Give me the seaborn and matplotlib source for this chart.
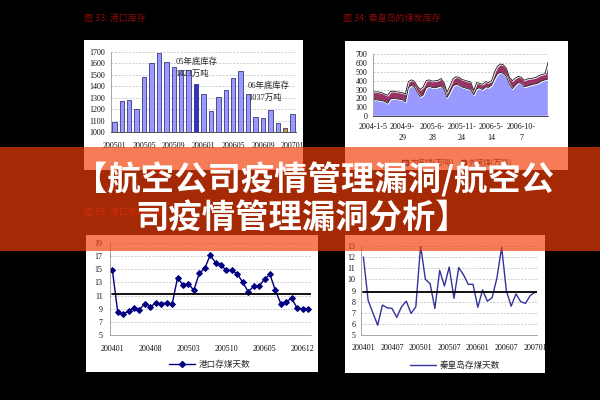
import numpy as np
import pandas as pd
import matplotlib
matplotlib.use("Agg")
import matplotlib.pyplot as plt
import seaborn as sns
from matplotlib.patches import Rectangle, Patch
from matplotlib.lines import Line2D

# --- values ---
# fig 33: port stock, monthly 200501..200701 (万吨)
stock_months = ["200501", "200502", "200503", "200504", "200505", "200506", "200507",
                "200508", "200509", "200510", "200511", "200512", "200601", "200602",
                "200603", "200604", "200605", "200606", "200607", "200608", "200609",
                "200610", "200611", "200612", "200701"]
port_stock = [1090, 1270, 1280, 1205, 1480, 1605, 1690, 1610, 1570, 1540, 1540, 1423,
              1330, 1185, 1310, 1365, 1475, 1530, 1330, 1130, 1125, 1190, 1075, 1037, 1160]
stock_ticks = ["200501", "200505", "200509", "200601", "200605", "200609", "200701"]

# fig 34: Qinhuangdao coal stock, irregular dates (万吨)
qhd_dates = ["2004-1-5", "2004-9-\n29", "2005-6-\n28", "2005-11-\n24", "2006-5-\n14", "2006-10-\n7"]
inland_coal = [180, 185, 180, 175, 165, 145, 195, 200, 195, 190, 185, 160, 320, 350, 330,
               270, 220, 240, 320, 335, 325, 320, 330, 340, 300, 210, 270, 340, 360, 350,
               330, 320, 310, 300, 240, 310, 320, 300, 330, 325, 350, 420, 480, 495, 480,
               450, 360, 310, 350, 380, 370, 330, 340, 350, 360, 365, 380, 400, 410, 420]
foreign_coal = [90, 90, 92, 90, 85, 90, 85, 82, 80, 80, 80, 90, 70, 60, 65,
                70, 80, 90, 80, 75, 70, 80, 75, 85, 80, 60, 70, 80, 85, 90,
                85, 85, 85, 85, 50, 70, 50, 60, 60, 55, 50, 80, 85, 95, 100,
                90, 80, 90, 80, 70, 70, 75, 80, 75, 70, 75, 80, 70, 70, 190]

# fig 35: port coal days, monthly 200401..200701
days_ticks_35 = ["200401", "200408", "200503", "200510", "200605", "200612"]
port_days = [14.9, 8.5, 8.2, 8.7, 9.1, 8.9, 9.8, 9.3, 9.9, 9.8, 9.9, 9.7, 13.7, 12.6,
             12.8, 11.8, 14.4, 15.1, 17.1, 16.0, 15.6, 14.8, 14.8, 14.3, 13.0, 11.6,
             12.4, 12.4, 13.5, 14.2, 11.8, 9.8, 10.1, 10.6, 9.1, 9.0, 9.0]
port_days_avg = 11.2

# fig 36: Qinhuangdao coal days, monthly 200401..200701
days_ticks_36 = ["200401", "200407", "200501", "200507", "200601", "200607", "200701"]
qhd_days = [12.0, 8.1, 7.0, 5.9, 7.7, 7.45, 7.4, 6.6, 7.55, 8.05, 6.95, 7.55, 13.0,
            10.0, 9.6, 7.4, 10.8, 9.4, 11.1, 8.3, 11.05, 10.4, 9.55, 9.55, 7.5, 9.05,
            8.05, 8.35, 10.1, 12.85, 8.95, 7.6, 8.7, 8.0, 7.85, 8.55, 8.85]
qhd_days_avg = 8.86

sns.set_theme(style="white")
plt.rcParams['font.family'] = ['Liberation Serif', 'Noto Sans CJK SC']
plt.rcParams['axes.unicode_minus'] = False

W, H = 600, 400
def fx(px): return px / W
def fy(py): return 1 - py / H
def box(x0, y0, x1, y1):
    return [fx(x0), fy(y1), fx(x1) - fx(x0), fy(y0) - fy(y1)]

fig = plt.figure(figsize=(6, 4), dpi=100, facecolor="black")

# white panels behind the four charts
for x0, y0, x1, y1 in [(84, 40, 303, 170), (345, 41, 568, 170),
                       (86, 235, 318, 372), (345, 235, 545, 373)]:
    fig.add_artist(Rectangle((fx(x0), fy(y1)), fx(x1) - fx(x0), fy(y0) - fy(y1),
                             transform=fig.transFigure, facecolor="white",
                             edgecolor="none", zorder=-1))

tick_fs = 5.8
grid_kw = dict(color="#BBBBBB", linestyle=(0, (3, 2)), linewidth=0.5)

def style_ax(ax):
    ax.set_facecolor("none")
    ax.set_axisbelow(True)
    ax.yaxis.grid(True, **grid_kw)
    ax.xaxis.grid(False)
    for s in ["top", "right"]:
        ax.spines[s].set_visible(False)
    ax.spines["left"].set_color("#999999")
    ax.spines["left"].set_linewidth(0.6)
    ax.spines["bottom"].set_color("#333333")
    ax.spines["bottom"].set_linewidth(0.6)
    ax.tick_params(labelsize=tick_fs, length=0, colors="#111111")
    ax.set_xlabel("")
    ax.set_ylabel("")

# --- fig 33: bars ---
ax1 = fig.add_axes(box(110.6, 52, 296.4, 132))
df1 = pd.DataFrame({"month": stock_months, "stock": port_stock})
bar_colors = ["#9999FF"] * len(stock_months)
bar_colors[stock_months.index("200512")] = "#3333CC"
bar_colors[stock_months.index("200612")] = "#CC9933"
sns.barplot(data=df1, x="month", y="stock", hue="month", palette=bar_colors,
            legend=False, width=0.6, saturation=1, edgecolor="#1a1a66",
            linewidth=0.5, ax=ax1)
ax1.set_ylim(1000, 1700)
ax1.set_xlim(-0.5, len(stock_months) - 0.5)
ax1.set_yticks(range(1000, 1701, 100))
ax1.set_xticks([stock_months.index(t) for t in stock_ticks])
ax1.set_xticklabels(stock_ticks)
style_ax(ax1)
ax1.tick_params(axis="x", pad=7)
ax1.tick_params(axis="y", pad=4)
ax1.text(0.35, 0.88, "05年底库存", transform=ax1.transAxes, fontsize=6, va="center")
ax1.text(0.35, 0.73, "1423万吨", transform=ax1.transAxes, fontsize=6, va="center")
ax1.text(0.74, 0.58, "06年底库存", transform=ax1.transAxes, fontsize=6, va="center")
ax1.text(0.74, 0.43, "1037万吨", transform=ax1.transAxes, fontsize=6, va="center")

# --- fig 34: stacked area ---
ax2 = fig.add_axes(box(372.7, 54.3, 548, 116))
idx = np.arange(len(inland_coal))
total_coal = np.add(inland_coal, foreign_coal)
ax2.stackplot(idx, inland_coal, foreign_coal, colors=["#9999FF", "#993366"])
sns.lineplot(x=idx, y=inland_coal, color="#1a1a1a", linewidth=0.6, ax=ax2)
sns.lineplot(x=idx, y=total_coal, color="#1a1a1a", linewidth=0.6, ax=ax2)
ax2.set_xlim(0, len(inland_coal) - 1)
ax2.set_ylim(0, 700)
ax2.set_yticks(range(0, 701, 100))
ax2.set_xticks(range(0, len(inland_coal), 10))
ax2.set_xticklabels(qhd_dates, linespacing=1.45, va="top")
style_ax(ax2)
ax2.tick_params(axis="x", pad=5)
ax2.tick_params(axis="y", pad=4)
fig.legend(handles=[Patch(facecolor="#9999FF", edgecolor="#333"),
                    Patch(facecolor="#993366", edgecolor="#333")],
           labels=["内贸煤(万吨)", "外贸煤(万吨)"], loc="center",
           bbox_to_anchor=(fx(457), fy(163)), ncol=2, frameon=False, fontsize=5.5,
           handlelength=0.7, handleheight=0.7, columnspacing=1.0, handletextpad=0.3)

# --- fig 35: port coal days ---
ax3 = fig.add_axes(box(109.6, 242.7, 310.7, 335.3))
sns.lineplot(x=np.arange(len(port_days)), y=port_days, color="#000080", linewidth=1,
             marker="D", markersize=3, markeredgecolor="#000080", ax=ax3)
ax3.axhline(port_days_avg, xmin=0.013, xmax=1, color="black", linewidth=1.3)
ax3.set_xlim(-0.5, len(port_days) - 0.5)
ax3.set_ylim(5, 19)
ax3.set_yticks(range(5, 20, 2))
ax3.set_xticks([0, 7, 14, 21, 28, 35])
ax3.set_xticklabels(days_ticks_35)
style_ax(ax3)
ax3.spines["bottom"].set_color("#999999")
ax3.tick_params(axis="x", pad=7)
ax3.tick_params(axis="y", pad=5)
fig.legend(handles=[Line2D([0], [0], color="#000080", lw=1, marker="D", markersize=3)],
           labels=["港口存煤天数"], loc="center", bbox_to_anchor=(fx(210), fy(365)),
           frameon=False, fontsize=6.2, handlelength=3, handletextpad=0.4)

# --- fig 36: Qinhuangdao coal days ---
ax4 = fig.add_axes(box(361, 245.7, 537.4, 335.3))
sns.lineplot(x=np.arange(len(qhd_days)), y=qhd_days, color="#333399", linewidth=1, ax=ax4)
ax4.axhline(qhd_days_avg, xmin=0.013, xmax=0.995, color="black", linewidth=1.3)
ax4.set_xlim(-0.5, len(qhd_days) - 0.5)
ax4.set_ylim(5, 13)
ax4.set_yticks(range(5, 14))
ax4.set_xticks(range(0, len(qhd_days), 6))
ax4.set_xticklabels(days_ticks_36)
style_ax(ax4)
ax4.spines["bottom"].set_color("#999999")
ax4.tick_params(axis="x", pad=6)
ax4.tick_params(axis="y", pad=4)
fig.legend(handles=[Line2D([0], [0], color="#333399", lw=1)],
           labels=["秦皇岛存煤天数"], loc="center", bbox_to_anchor=(fx(455), fy(366)),
           frameon=False, fontsize=6.2, handlelength=3, handletextpad=0.4)

# --- figure captions (dim red on black) ---
cap_kw = dict(fontsize=6.5, color="#8C0A0A", va="center", ha="left",
              family=["Noto Sans CJK SC", "DejaVu Sans"])
fig.text(fx(84), fy(18), "图 33: 港口库存", **cap_kw)
fig.text(fx(343), fy(18), "图 34: 秦皇岛的煤炭库存", **cap_kw)
fig.text(fx(84), fy(213), "图 35: 港口存煤天数", **cap_kw)

# --- translucent banner with title ---
fig.add_artist(Rectangle((0, fy(251)), 1, fy(147) - fy(251), transform=fig.transFigure,
                         facecolor="#F33E07", alpha=0.68, edgecolor="none", zorder=10))
ban_kw = dict(fontsize=24, color="white", weight="bold", ha="center", va="center",
              family=["Noto Sans CJK SC", "DejaVu Sans"], zorder=11)
fig.text(fx(314), fy(180), "【航空公司疫情管理漏洞/航空公", **ban_kw)
fig.text(fx(302), fy(219), "司疫情管理漏洞分析】", **ban_kw)

fig.savefig("out.png", dpi=100, facecolor="black")
